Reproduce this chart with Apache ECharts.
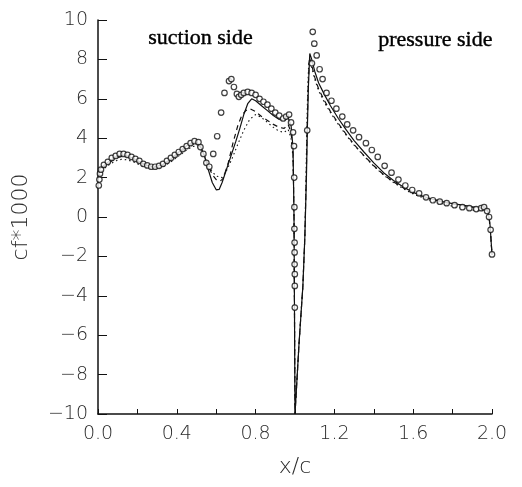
<!DOCTYPE html>
<html>
<head>
<meta charset="utf-8">
<script src="https://cdn.jsdelivr.net/npm/echarts@6/dist/echarts.min.js"></script>
<style>
  html, body { margin: 0; padding: 0; background: #fff; }
  #chart { width: 522px; height: 487px; }
</style>
</head>
<body>
<div id="chart"></div>
<script>
// Skin friction along the blade surface: x/c 0..1 suction side, 1..2 pressure side.
var xTicks = [0.0, 0.4, 0.8, 1.2, 1.6, 2.0];

// Measured values (open circles)
var measured = [
  [0.004,1.6],[0.007,1.9],[0.01,2.2],[0.015,2.4],[0.03,2.65],[0.05,2.8],[0.07,3.0],[0.09,3.1],
  [0.11,3.2],[0.13,3.2],[0.15,3.15],[0.17,3.05],[0.19,2.95],[0.21,2.85],[0.23,2.7],[0.25,2.62],
  [0.27,2.55],[0.29,2.55],[0.31,2.6],[0.33,2.7],[0.35,2.85],[0.37,3.0],[0.39,3.15],[0.41,3.3],
  [0.43,3.45],[0.45,3.6],[0.47,3.75],[0.49,3.85],[0.51,3.8],[0.52,3.55],[0.535,3.2],[0.55,2.75],
  [0.565,2.55],[0.585,3.2],[0.605,4.1],[0.625,5.3],[0.642,6.3],[0.665,6.9],[0.677,7.0],[0.69,6.6],
  [0.705,6.25],[0.715,6.1],[0.727,6.2],[0.74,6.3],[0.76,6.35],[0.78,6.3],[0.80,6.2],[0.82,6.0],
  [0.84,5.85],[0.86,5.7],[0.88,5.5],[0.90,5.3],[0.92,5.15],[0.94,5.0],[0.955,5.1],[0.97,5.2],
  [0.98,4.8],[0.99,4.3],[0.995,3.6],[0.996,2.0],[0.997,0.5],[0.997,-0.6],[0.998,-1.3],[0.998,-1.8],
  [0.998,-2.4],[0.999,-2.9],[0.999,-3.5],[0.999,-4.6],
  [1.062,4.4],[1.086,7.8],[1.09,9.4],[1.098,8.8],[1.11,8.2],[1.125,7.5],[1.14,7.0],[1.16,6.3],
  [1.185,5.9],[1.21,5.5],[1.24,5.1],[1.265,4.7],[1.295,4.4],[1.325,4.05],[1.36,3.75],[1.39,3.4],
  [1.42,3.05],[1.455,2.6],[1.49,2.25],[1.525,1.9],[1.56,1.6],[1.595,1.37],[1.63,1.2],[1.665,1.0],
  [1.70,0.85],[1.735,0.78],[1.77,0.7],[1.81,0.6],[1.85,0.5],[1.885,0.45],[1.92,0.4],[1.945,0.45],
  [1.96,0.5],[1.975,0.3],[1.985,0.0],[1.993,-0.65],[2.0,-1.9]
];

// Computed distributions
var solidLine = [
  [0,2.2],[0.01,2.45],[0.03,2.62],[0.06,2.85],[0.09,3.05],[0.12,3.15],[0.15,3.1],[0.18,2.97],
  [0.21,2.8],[0.25,2.62],[0.29,2.55],[0.33,2.68],[0.37,2.95],[0.41,3.3],[0.45,3.62],[0.48,3.78],
  [0.5,3.8],[0.52,3.6],[0.54,3.1],[0.56,2.4],[0.58,1.75],[0.6,1.38],[0.615,1.4],[0.63,1.75],
  [0.65,2.35],[0.675,3.1],[0.7,3.85],[0.72,4.5],[0.74,5.2],[0.76,5.75],[0.78,6.0],[0.8,5.9],
  [0.83,5.65],[0.86,5.4],[0.89,5.15],[0.92,4.95],[0.945,4.9],[0.965,5.05],[0.98,4.65],[0.99,3.5],
  [0.995,0],[1.0,-10],[1.02,-6.5],[1.04,-3.5],[1.05,-1],[1.058,2],[1.063,4.6],[1.068,6.6],
  [1.075,8.3],[1.085,8.0],[1.1,7.4],[1.12,6.8],[1.15,6.2],[1.18,5.65],[1.22,5.0],[1.26,4.42],
  [1.3,3.88],[1.35,3.3],[1.4,2.75],[1.45,2.25],[1.5,1.85],[1.55,1.52],[1.6,1.25],[1.65,1.05],
  [1.7,0.9],[1.75,0.78],[1.8,0.68],[1.85,0.6],[1.9,0.52],[1.94,0.47],[1.965,0.52],[1.98,0.3],
  [1.99,-0.4],[2.0,-1.9]
];

var dashedLine = [
  [0,2.1],[0.01,2.35],[0.03,2.55],[0.06,2.78],[0.09,2.98],[0.12,3.08],[0.15,3.05],[0.18,2.92],
  [0.21,2.75],[0.25,2.58],[0.29,2.52],[0.33,2.64],[0.37,2.9],[0.41,3.22],[0.45,3.55],[0.48,3.7],
  [0.5,3.72],[0.52,3.55],[0.54,3.15],[0.56,2.6],[0.58,2.15],[0.6,1.9],[0.62,1.82],[0.635,1.95],
  [0.66,2.7],[0.685,3.75],[0.71,4.65],[0.73,5.15],[0.75,5.4],[0.77,5.5],[0.8,5.35],[0.83,5.1],
  [0.86,4.9],[0.89,4.7],[0.92,4.55],[0.945,4.5],[0.965,4.7],[0.98,4.3],[0.99,3.2],[0.995,0],
  [1.0,-10],[1.02,-6.5],[1.04,-3.5],[1.05,-1],[1.057,2],[1.062,4.6],[1.067,6.6],[1.073,8.1],
  [1.085,7.7],[1.1,7.1],[1.12,6.5],[1.15,5.9],[1.18,5.35],[1.22,4.75],[1.26,4.2],[1.3,3.68],
  [1.35,3.12],[1.4,2.6],[1.45,2.15],[1.5,1.78],[1.55,1.48],[1.6,1.22],[1.65,1.03],[1.7,0.88],
  [1.75,0.76],[1.8,0.66],[1.85,0.58],[1.9,0.5],[1.94,0.45],[1.965,0.5],[1.98,0.28],[1.99,-0.4],
  [2.0,-1.9]
];

var dottedLine = [
  [0,1.9],[0.01,2.2],[0.03,2.45],[0.06,2.68],[0.09,2.85],[0.12,2.93],[0.15,2.9],[0.18,2.8],
  [0.21,2.65],[0.25,2.5],[0.29,2.45],[0.33,2.55],[0.37,2.8],[0.41,3.1],[0.45,3.4],[0.48,3.58],
  [0.5,3.6],[0.52,3.45],[0.54,3.1],[0.56,2.65],[0.58,2.3],[0.6,2.08],[0.63,2.0],[0.65,2.3],
  [0.68,2.95],[0.71,3.7],[0.74,4.4],[0.77,4.95],[0.8,5.2],[0.83,5.05],[0.86,4.8],[0.89,4.55],
  [0.92,4.35],[0.945,4.3],[0.965,4.45],[0.98,4.0],[0.99,3.0],[0.995,0],[1.0,-10],[1.02,-6.5],
  [1.04,-3.5],[1.05,-1],[1.056,2],[1.06,4.6],[1.065,6.6],[1.07,7.9],[1.085,7.6],[1.1,7.0],
  [1.12,6.4],[1.15,5.8],[1.18,5.3],[1.22,4.7],[1.26,4.15],[1.3,3.65],[1.35,3.1],[1.4,2.58],
  [1.45,2.13],[1.5,1.75],[1.55,1.43],[1.6,1.17],[1.65,0.97],[1.7,0.8],[1.75,0.67],[1.8,0.55],
  [1.85,0.45],[1.9,0.35],[1.94,0.3],[1.965,0.38],[1.98,0.2],[1.99,-0.5],[2.0,-1.9]
];

var chart = echarts.init(document.getElementById('chart'), null, { renderer: 'canvas' });
var ink = '#111';
var textInk = '#2a2a2a';
var axisFont = '"DejaVu Sans", "Liberation Sans", sans-serif';
var noteFont = 'normal 22px "Liberation Serif", "DejaVu Serif", serif';

chart.setOption({
  animation: false,
  backgroundColor: '#fff',
  grid: { left: 98, right: 30, top: 20, bottom: 73, containLabel: false },
  xAxis: {
    type: 'value', min: 0, max: 2, interval: 0.2,
    name: 'x/c', nameLocation: 'middle', nameGap: 42,
    nameTextStyle: { fontFamily: axisFont, fontSize: 22, fontWeight: 300, color: textInk },
    axisLine: { show: true, onZero: false, lineStyle: { color: ink, width: 1.5 } },
    axisTick: { show: true, inside: true, length: 5, lineStyle: { color: ink, width: 1 } },
    axisLabel: {
      margin: 11, fontFamily: axisFont, fontSize: 19, fontWeight: 300, color: textInk,
      formatter: function (v) {
        for (var i = 0; i < xTicks.length; i++) {
          if (Math.abs(v - xTicks[i]) < 1e-6) return xTicks[i].toFixed(1);
        }
        return '';
      }
    },
    splitLine: { show: false }
  },
  yAxis: {
    type: 'value', min: -10, max: 10, interval: 2,
    name: 'cf*1000', nameLocation: 'middle', nameGap: 66, nameRotate: 90,
    nameTextStyle: { fontFamily: axisFont, fontSize: 22, fontWeight: 300, color: textInk },
    axisLine: { show: true, onZero: false, lineStyle: { color: ink, width: 1.5 } },
    axisTick: { show: true, inside: true, length: 9, lineStyle: { color: ink, width: 1 } },
    axisLabel: {
      margin: 10, fontFamily: axisFont, fontSize: 19, fontWeight: 300, color: textInk,
      formatter: function (v) { return v < 0 ? '\u2212' + Math.abs(v) : String(v); }
    },
    splitLine: { show: false }
  },
  series: [
    {
      name: 'solid', type: 'line', data: solidLine, showSymbol: false,
      lineStyle: { color: ink, width: 1.2, type: 'solid' }, z: 3
    },
    {
      name: 'dashed', type: 'line', data: dashedLine, showSymbol: false,
      lineStyle: { color: ink, width: 1.2, type: [5, 4] }, z: 3
    },
    {
      name: 'dotted', type: 'line', data: dottedLine, showSymbol: false,
      lineStyle: { color: ink, width: 1.1, type: [1.5, 3] }, z: 3
    },
    {
      name: 'measured', type: 'scatter', data: measured,
      symbol: 'circle', symbolSize: 5.5,
      itemStyle: { color: '#fff', borderColor: ink, borderWidth: 1.2 }, z: 4
    }
  ],
  graphic: [
    {
      type: 'text', left: 148, top: 27,
      style: { text: 'suction side', font: noteFont, fill: '#000', stroke: '#000', lineWidth: 0.4 }
    },
    {
      type: 'text', left: 378, top: 29,
      style: { text: 'pressure side', font: noteFont, fill: '#000', stroke: '#000', lineWidth: 0.4 }
    }
  ]
});
</script>
</body>
</html>
